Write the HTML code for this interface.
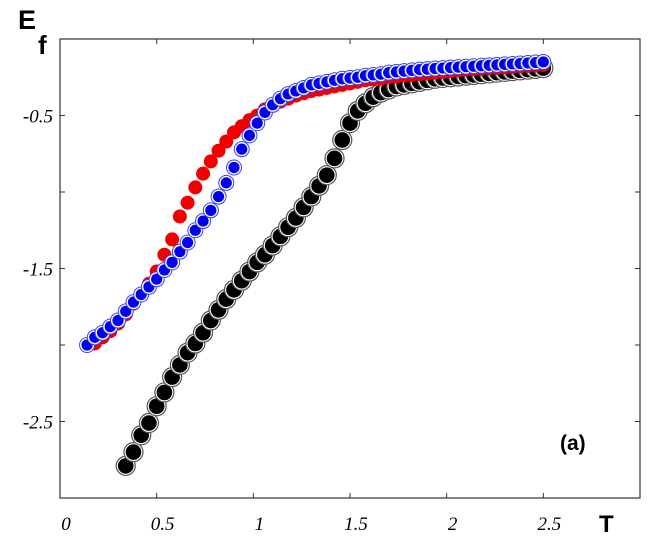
<!DOCTYPE html>
<html><head><meta charset="utf-8"><style>
html,body{margin:0;padding:0;background:#fff;}
svg{display:block;}
</style></head><body>
<svg id="chart" width="653" height="543" viewBox="0 0 653 543" xmlns="http://www.w3.org/2000/svg">
<rect x="0" y="0" width="653" height="543" fill="#fff"/>
<g id="marks"></g>
<rect x="60" y="39" width="580" height="459" fill="none" stroke="#333" stroke-width="1.2"/>
<g id="ticks"></g>
<text x="18" y="29" font-family="Liberation Sans, sans-serif" font-weight="bold" font-size="27">E</text>
<text x="38" y="54" font-family="Liberation Sans, sans-serif" font-weight="bold" font-size="26">f</text>
<text x="599" y="532" font-family="Liberation Sans, sans-serif" font-weight="bold" font-size="24">T</text>
<text x="560" y="450" font-family="Liberation Sans, sans-serif" font-weight="bold" font-size="21">(a)</text>
</svg>
<script>
const xTicks = [0, 0.5, 1, 1.5, 2, 2.5];
const xTickLabels = ["0", "0.5", "1", "1.5", "2", "2.5"];
const yTicks = [-0.5, -1, -1.5, -2, -2.5];
const yTickLabels = ["-0.5", "", "-1.5", "", "-2.5"];
const tStep = 0.04;
const blueT0 = 0.14;
const blueE = [-2.00,-1.95,-1.92,-1.88,-1.84,-1.78,-1.72,-1.67,-1.62,-1.57,-1.51,-1.46,-1.39,-1.33,-1.25,-1.19,-1.12,-1.03,-0.94,-0.84,-0.72,-0.63,-0.55,-0.48,-0.43,-0.39,-0.36,-0.34,-0.32,-0.30,-0.29,-0.28,-0.27,-0.26,-0.255,-0.25,-0.24,-0.235,-0.23,-0.22,-0.215,-0.21,-0.205,-0.20,-0.197,-0.193,-0.19,-0.187,-0.184,-0.181,-0.178,-0.175,-0.172,-0.169,-0.166,-0.163,-0.16,-0.157,-0.154,-0.15];
const redT0 = 0.18;
const redE = [-1.99,-1.95,-1.91,-1.86,-1.80,-1.73,-1.67,-1.60,-1.52,-1.41,-1.31,-1.16,-1.07,-0.97,-0.88,-0.80,-0.73,-0.67,-0.61,-0.57,-0.53,-0.50,-0.46,-0.43,-0.41,-0.39,-0.37,-0.355,-0.34,-0.33,-0.32,-0.31,-0.30,-0.29,-0.28,-0.27,-0.265,-0.26,-0.25,-0.245,-0.24,-0.235,-0.23,-0.225,-0.22,-0.215,-0.21,-0.205,-0.20,-0.197,-0.194,-0.191,-0.188,-0.185,-0.182,-0.179,-0.176,-0.173,-0.17];
const blackT0 = 0.34;
const blackE = [-2.79,-2.70,-2.59,-2.51,-2.40,-2.31,-2.21,-2.13,-2.05,-1.99,-1.92,-1.84,-1.77,-1.70,-1.64,-1.58,-1.52,-1.46,-1.41,-1.35,-1.29,-1.23,-1.17,-1.10,-1.03,-0.96,-0.89,-0.78,-0.66,-0.55,-0.47,-0.42,-0.38,-0.35,-0.33,-0.31,-0.30,-0.29,-0.28,-0.27,-0.26,-0.255,-0.25,-0.245,-0.24,-0.235,-0.23,-0.225,-0.22,-0.215,-0.21,-0.205,-0.20,-0.195,-0.19];

const X0 = 60, X1 = 640, Y0 = 39, Y1 = 498;
function sx(t){ return X0 + (t - 0) / 3 * (X1 - X0); }
function sy(e){ return Y0 + (0 - e) / 3 * (Y1 - Y0); }
const NS = "http://www.w3.org/2000/svg";
const marks = document.getElementById('marks');
const ticks = document.getElementById('ticks');
function circ(parent, cx, cy, r, fill, stroke, sw){
  const c = document.createElementNS(NS, 'circle');
  c.setAttribute('cx', cx.toFixed(2)); c.setAttribute('cy', cy.toFixed(2)); c.setAttribute('r', r);
  c.setAttribute('fill', fill); if (stroke){ c.setAttribute('stroke', stroke); c.setAttribute('stroke-width', sw); }
  parent.appendChild(c); return c;
}
function series(name, t0, vals, draw){
  const g = document.createElementNS(NS, 'g');
  
  
  marks.appendChild(g);
  vals.forEach((v, i) => {
    const t = t0 + i * tStep;
    const pg = document.createElementNS(NS, 'g');
    
    
    g.appendChild(pg);
    draw(pg, sx(t), sy(v));
  });
}
series('black-series', blackT0, blackE, (g, x, y) => {
  circ(g, x, y, 9.5, '#fff', '#555', 1.2);
  circ(g, x, y, 7.8, '#000');
});
series('red-series', redT0, redE, (g, x, y) => {
  circ(g, x, y, 7, '#f20000');
});
series('blue-series', blueT0, blueE, (g, x, y) => {
  circ(g, x, y, 7.5, '#fff', '#3344ee', 1);
  circ(g, x, y, 5.6, '#0000ee');
});
function line(x1,y1,x2,y2,name){
  const l = document.createElementNS(NS, 'line');
  l.setAttribute('x1', x1); l.setAttribute('y1', y1); l.setAttribute('x2', x2); l.setAttribute('y2', y2);
  l.setAttribute('stroke', '#333'); l.setAttribute('stroke-width', '1');
  
  
  ticks.appendChild(l);
}
function label(x, y, txt, anchor, name){
  const t = document.createElementNS(NS, 'text');
  t.setAttribute('x', x); t.setAttribute('y', y); t.setAttribute('text-anchor', anchor);
  t.setAttribute('font-family', 'Liberation Serif, serif'); t.setAttribute('font-style', 'italic'); t.setAttribute('font-size', '19');
  
  
  t.textContent = txt;
  ticks.appendChild(t);
}
xTicks.forEach((v, i) => {
  const x = sx(v);
  if (i > 0){ line(x, Y1, x, Y1 - 5, 'x-tick'); line(x, Y0, x, Y0 + 5, 'x-tick-top'); }
  label(x + 6, 530, xTickLabels[i], 'middle', 'x-tick-label');
});
yTicks.forEach((v, i) => {
  const y = sy(v);
  line(X0, y, X0 + 5, y, 'y-tick'); line(X1, y, X1 - 5, y, 'y-tick-right');
  if (yTickLabels[i]) label(53, y + 7, yTickLabels[i], 'end', 'y-tick-label');
});
</script>
</body></html>
